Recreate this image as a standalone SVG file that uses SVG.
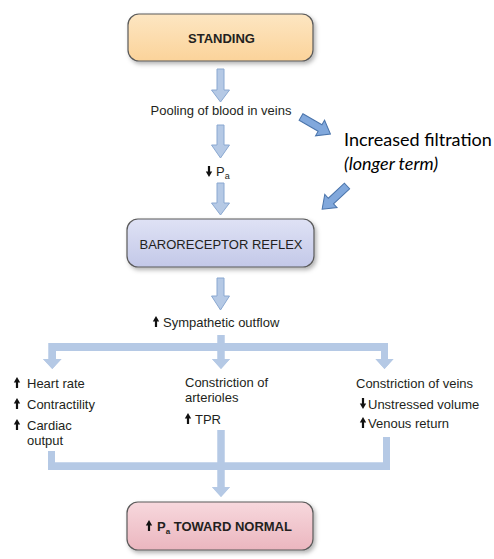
<svg xmlns="http://www.w3.org/2000/svg" width="494" height="559" viewBox="0 0 494 559">
<defs>
<style>
.t{font-family:"Liberation Sans",Arial,sans-serif;font-size:13px;fill:#231f20}
.b{font-weight:bold}
.big{font-family:Lato,"Open Sans",sans-serif;font-size:18px;fill:#000}
.flow{fill:#b5c9e5;stroke:#8aa8d1;stroke-width:1}
.fillonly{fill:#b5c9e5;stroke:none}
.strokeonly{fill:none;stroke:#8aa8d1;stroke-width:1}
.slant{fill:#81a8dc;stroke:#4a74ab;stroke-width:1}
.box{stroke:#5a5a5a;stroke-width:1.2}
.ico{fill:#111}
</style>
<linearGradient id="gOrange" x1="0" y1="0" x2="0" y2="1">
<stop offset="0" stop-color="#fde6c2"/><stop offset="1" stop-color="#fbd39a"/>
</linearGradient>
<linearGradient id="gBlue" x1="0" y1="0" x2="0" y2="1">
<stop offset="0" stop-color="#dfe2f5"/><stop offset="1" stop-color="#c3c8e8"/>
</linearGradient>
<linearGradient id="gPink" x1="0" y1="0" x2="0" y2="1">
<stop offset="0" stop-color="#f7d8dd"/><stop offset="1" stop-color="#ebb6bf"/>
</linearGradient>
<filter id="sh" x="-10%" y="-20%" width="130%" height="150%">
<feDropShadow dx="2" dy="2.5" stdDeviation="2" flood-color="#000" flood-opacity="0.3"/>
</filter>
<path id="up" d="M0,-11 L3.2,-5.5 L1.1,-5.5 L1.1,0 L-1.1,0 L-1.1,-5.5 L-3.2,-5.5 Z"/>
<path id="sl" d="M0,-3.8 H22 V-9 L34,0 L22,9 V3.8 H0 Z"/>
</defs>

<g id="connectors">
<path class="flow" d="M217,69 H224 V90 H229.5 L220.5,102 L211.5,90 H217 Z"/>
<path class="flow" d="M217,125 H224 V145 H229.5 L220.5,158 L211.5,145 H217 Z"/>
<path class="flow" d="M217,183 H224 V203 H229.5 L220.5,215 L211.5,203 H217 Z"/>
<path class="flow" d="M217,278 H224 V296 H229.5 L220.5,310 L211.5,296 H217 Z"/>
<path id="branchBar" class="fillonly" d="M48.5,343 H388 V359 H393.5 L384.5,369 L375.5,359 H381 V351 H56 V359 H61.5 L52.3,369 L43,359 H48.5 Z"/>
<path id="branchMid" class="fillonly" d="M217.5,335 H224.5 V359 H230 L221,369 L212,359 H217.5 Z"/>
<use href="#branchBar" class="strokeonly"/>
<use href="#branchMid" class="strokeonly"/>
<path id="mergeBar" class="fillonly" d="M48,451 H55 V462.5 H383 V437 H390 V470 H48 Z"/>
<path id="mergeMid" class="fillonly" d="M217.5,430 H224.5 V487 H230 L221,497 L212,487 H217.5 Z"/>
<use href="#mergeBar" class="strokeonly"/>
<use href="#mergeMid" class="strokeonly"/>
<use href="#sl" class="slant" transform="translate(301,117) rotate(30)"/>
<use href="#sl" class="slant" transform="translate(347,186) rotate(137)"/>
</g>

<g id="standing">
<rect class="box" x="128" y="14" width="185" height="47" rx="11" fill="url(#gOrange)" filter="url(#sh)"/>
<text class="t b" x="221.5" y="43" text-anchor="middle">STANDING</text>
</g>

<g id="pooling">
<text class="t" x="221" y="115" text-anchor="middle">Pooling of blood in veins</text>
</g>

<g id="pa-down">
<use href="#up" class="ico" transform="translate(209,166) rotate(180)"/>
<text class="t" x="216" y="176">P<tspan font-size="9" dy="3">a</tspan></text>
</g>

<g id="filtration">
<text class="big" x="344" y="146">Increased filtration</text>
<text class="big" x="344" y="170" font-style="italic">(longer term)</text>
</g>

<g id="baroreceptor">
<rect class="box" x="127" y="219" width="187" height="48" rx="11" fill="url(#gBlue)" filter="url(#sh)"/>
<text class="t" x="221" y="249" text-anchor="middle">BARORECEPTOR REFLEX</text>
</g>

<g id="sympathetic">
<use href="#up" class="ico" transform="translate(156,327)"/>
<text class="t" x="163" y="327" font-size="14">Sympathetic outflow</text>
</g>

<g id="heart">
<use href="#up" class="ico" transform="translate(17,388)"/>
<text class="t" x="27" y="388">Heart rate</text>
<use href="#up" class="ico" transform="translate(17,409)"/>
<text class="t" x="27" y="409">Contractility</text>
<use href="#up" class="ico" transform="translate(17,430)"/>
<text class="t" x="27" y="430">Cardiac</text>
<text class="t" x="27" y="445">output</text>
</g>

<g id="arterioles">
<text class="t" x="185" y="387">Constriction of</text>
<text class="t" x="185" y="402">arterioles</text>
<use href="#up" class="ico" transform="translate(188,424)"/>
<text class="t" x="195" y="424">TPR</text>
</g>

<g id="veins">
<text class="t" x="356" y="388">Constriction of veins</text>
<use href="#up" class="ico" transform="translate(363,398) rotate(180)"/>
<text class="t" x="368" y="409">Unstressed volume</text>
<use href="#up" class="ico" transform="translate(363,428)"/>
<text class="t" x="368" y="428">Venous return</text>
</g>

<g id="toward-normal">
<rect class="box" x="127" y="502" width="186" height="48" rx="11" fill="url(#gPink)" filter="url(#sh)"/>
<use href="#up" class="ico" transform="translate(149,531)"/>
<text class="t b" x="157" y="531" font-size="12">P<tspan font-size="8" dy="3">a</tspan><tspan dy="-3"> TOWARD NORMAL</tspan></text>
</g>
</svg>
